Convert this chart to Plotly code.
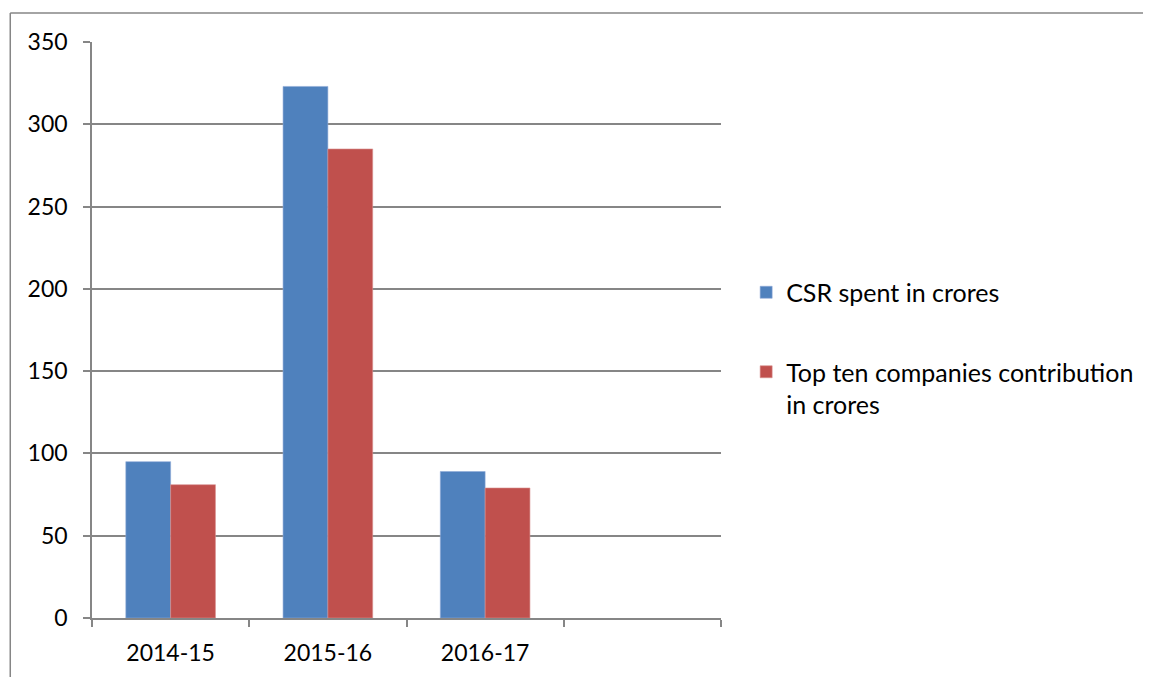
import plotly.graph_objects as go

categories = ["2014-15", "2015-16", "2016-17"]
axis_categories = ["2014-15", "2015-16", "2016-17", " "]
csr_spent = [95, 323, 89]
top_ten = [81, 285, 79]
series_names = ["CSR spent in crores", "Top ten companies contribution<br>in crores"]
colors = ["#4F81BD", "#C0504D"]
y_ticks = [0, 50, 100, 150, 200, 250, 300, 350]

FONT = "Lato, 'Noto Sans', sans-serif"
GRID = "#868686"

# page has an 8px body margin; compensate so the plot lands where the reference has it
W, H = 1143, 669
L, T, R, B = 84, 34, 428, 59
PW, PH = W - L - R, H - T - B

fig = go.Figure()
fig.add_trace(go.Bar(x=categories, y=csr_spent, name=series_names[0],
                     marker=dict(color=colors[0], line=dict(color="#8EA9D6", width=0.6)),
                     legendgroup="a"))
fig.add_trace(go.Bar(x=categories, y=top_ten, name=series_names[1],
                     marker=dict(color=colors[1], line=dict(color="#D8908E", width=0.6)),
                     legendgroup="b"))
# invisible placeholder for the empty fourth category slot
fig.add_trace(go.Scatter(x=[axis_categories[3]], y=[None], mode="markers",
                         showlegend=False, hoverinfo="skip"))

fig.update_layout(
    width=W, height=H,
    margin=dict(l=L, r=R, t=T, b=B),
    paper_bgcolor="white", plot_bgcolor="white",
    font=dict(family=FONT, size=23, color="#000000"),
    barmode="group", bargap=0.43, bargroupgap=0,
    showlegend=True,
    legend=dict(x=1.04, y=0.605, xanchor="left", yanchor="top",
                font=dict(family=FONT, size=25, color="#000000"),
                traceorder="grouped", tracegroupgap=44, valign="top",
                bgcolor="rgba(0,0,0,0)"),
    xaxis=dict(type="category", categoryorder="array", categoryarray=axis_categories,
               range=[-0.5, 3.5], showgrid=False, showline=True, linecolor=GRID, linewidth=1.5,
               ticks="outside", tickson="boundaries", ticklen=7, tickcolor=GRID, tickwidth=1.5,
               ticklabelstandoff=14, zeroline=False),
    yaxis=dict(range=[0, 350], tickvals=y_ticks, showgrid=True, gridcolor=GRID, gridwidth=1.5,
               showline=True, linecolor=GRID, linewidth=1.5, ticks="outside", ticklen=7,
               tickcolor=GRID, tickwidth=1.5, ticklabelstandoff=11, zeroline=False),
    shapes=[
        dict(type="line", xref="paper", yref="paper", x0=-82/PW, x1=(W - L + 20)/PW,
             y0=1 + 29/PH, y1=1 + 29/PH, line=dict(color=GRID, width=1.5)),
        dict(type="line", xref="paper", yref="paper", x0=-82/PW, x1=-82/PW,
             y0=1 + 29/PH, y1=-(B + 20)/PH, line=dict(color=GRID, width=1.5)),
    ],
)

fig.write_html("out.html")
